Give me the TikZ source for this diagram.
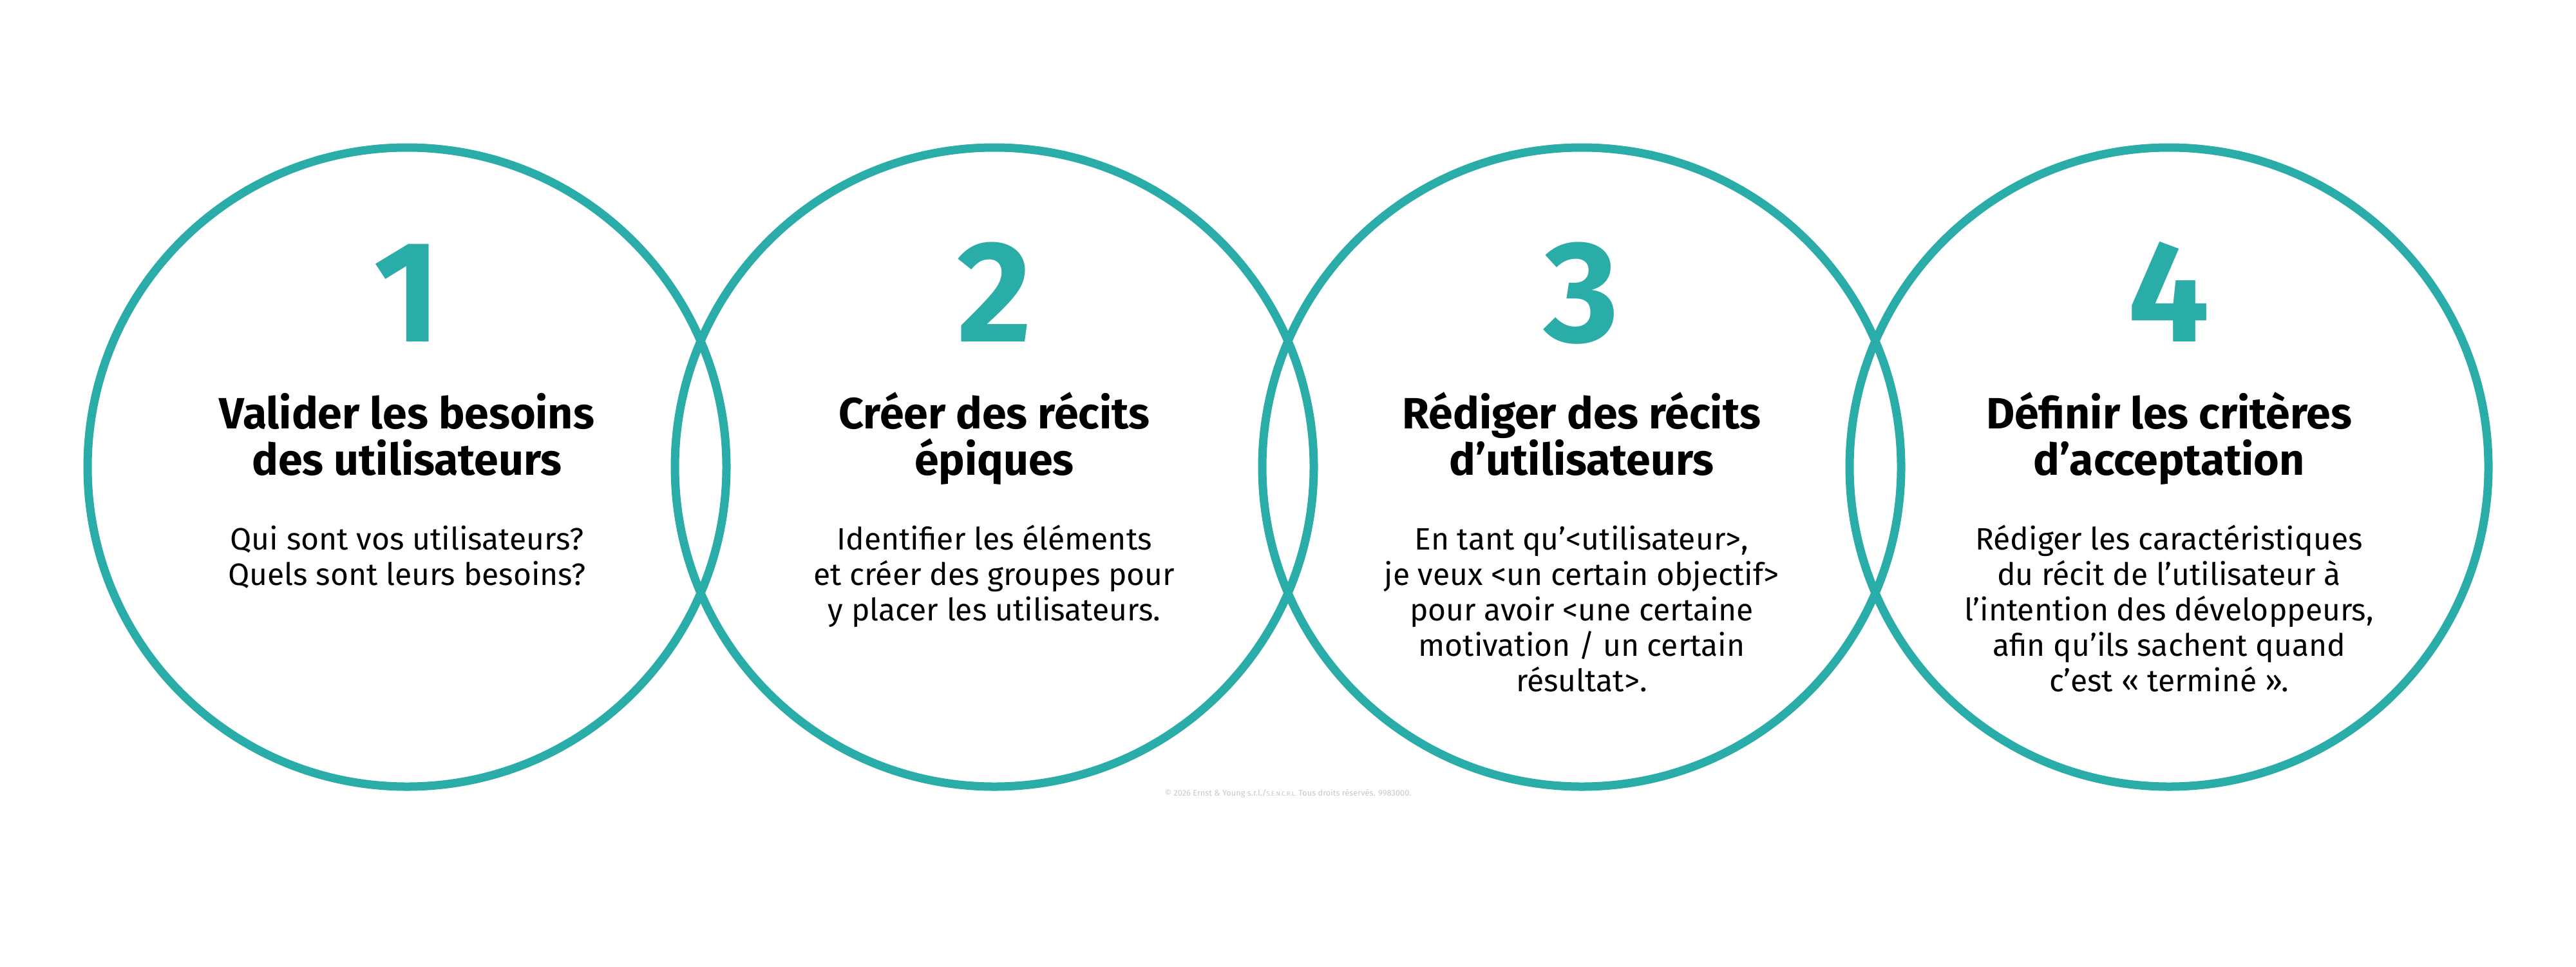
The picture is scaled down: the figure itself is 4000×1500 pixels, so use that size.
\documentclass[tikz,border=0pt]{standalone}
\usepackage{fontspec}
\setmainfont{Fira Sans}
\definecolor{eyteal}{HTML}{2AACA8}
\definecolor{cpgray}{HTML}{C8C8C8}
\begin{document}
\begin{tikzpicture}[x=0.25pt,y=-0.25pt,
  ring/.style={circle, draw=eyteal, line width=3.25pt, minimum size=248pt, inner sep=0pt},
  num/.style={text=eyteal, font=\bfseries\fontsize{56}{56}\selectfont, anchor=base, inner sep=0pt},
  ttl/.style={font=\bfseries\fontsize{17}{18}\selectfont, align=center, anchor=base, inner sep=0pt},
  bdy/.style={font=\fontsize{12}{13.75}\selectfont, align=center, anchor=base, inner sep=0pt},
  cpy/.style={text=cpgray, font=\fontsize{3.2}{4}\selectfont, anchor=base, inner sep=0pt}]
\useasboundingbox (0,0) rectangle (4000,1500);
\fill[white] (0,0) rectangle (4000,1500);
% circles
\node[ring] (c1) at (632,725) {};
\node[ring] (c2) at (1544,725) {};
\node[ring] (c3) at (2456,725) {};
\node[ring] (c4) at (3368,725) {};
% numbers
\node[num] (n1) at (632,530) {1};
\node[num] (n2) at (1544,530) {2};
\node[num] (n3) at (2456,530) {3};
\node[num] (n4) at (3368,530) {4};
% titles (anchor = baseline of last line)
\node[ttl] (t1) at (632,737) {Valider les besoins\\des utilisateurs};
\node[ttl] (t2) at (1544,737) {Créer des récits\\épiques};
\node[ttl] (t3) at (2456,737) {Rédiger des récits\\d’utilisateurs};
\node[ttl] (t4) at (3368,737) {Définir les critères\\d’acceptation};
% bodies (anchor = baseline of last line)
\node[bdy] (b1) at (632,908) {Qui sont vos utilisateurs?\\Quels sont leurs besoins?};
\node[bdy] (b2) at (1544,963) {Identifier les éléments\\et créer des groupes pour\\y placer les utilisateurs.};
\node[bdy] (b3) at (2456,1073) {En tant qu’<utilisateur>,\\je veux <un certain objectif>\\pour avoir <une certaine\\motivation / un certain\\résultat>.};
\node[bdy] (b4) at (3368,1073) {Rédiger les caractéristiques\\du récit de l’utilisateur à\\l’intention des développeurs,\\afin qu’ils sachent quand\\c’est « terminé ».};
% copyright
\node[cpy] (cp) at (2000,1235) {© 2026 Ernst \& Young s.r.l./{\fontsize{2.4}{3}\selectfont S.E.N.C.R.L.} Tous droits réservés. 9983000.};
\end{tikzpicture}
\end{document}
